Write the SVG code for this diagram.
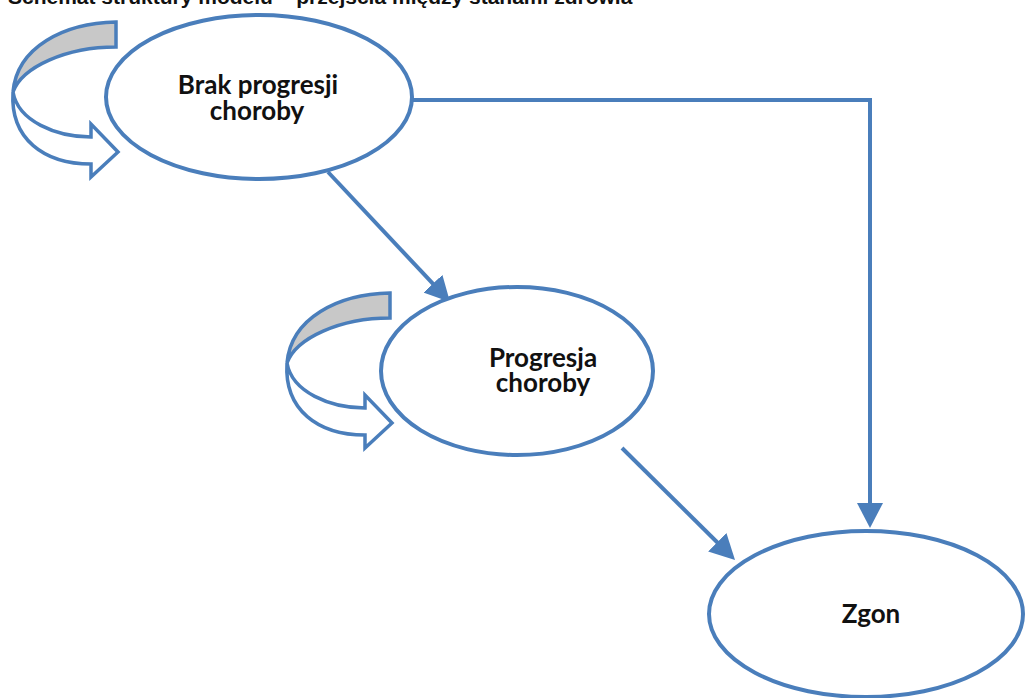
<svg xmlns="http://www.w3.org/2000/svg" width="1026" height="698" viewBox="0 0 1026 698">
<style>
.node{fill:#ffffff;stroke:#4a7ebb;stroke-width:4}
.lbl{font-family:Lato,"Open Sans","Liberation Sans",sans-serif;font-weight:bold;font-size:26px;fill:#111;text-anchor:middle}
.edge{fill:none;stroke:#4a7ebb;stroke-width:4}
.loopf{fill:#ffffff;stroke:#4a7ebb;stroke-width:3.5;stroke-linejoin:miter}
.loopb{fill:#c8c8c8;stroke:#4a7ebb;stroke-width:3.5}
.title{font-family:"Liberation Sans",Arial,sans-serif;font-weight:bold;font-size:21px;fill:#111}
</style>
<defs>
<marker id="ah" markerUnits="userSpaceOnUse" markerWidth="26" markerHeight="26" refX="13" refY="13" orient="auto">
<path d="M0,0 L25,13 L0,26 Z" fill="#4a7ebb"/>
</marker>
<g id="selfloop">
<path class="loopb" d="M390,293 C338,294 291,318 287,363 C296,338 340,318 390,318 Z"/>
<path class="loopf" d="M287,363 C292,392 330,408 365,408 L365,395 L392,423 L365,448 L365,435 C318,435 284,410 287,363 Z"/>
</g>
</defs>
<rect width="1026" height="698" fill="#ffffff"/>
<text class="title" x="8" y="4">Schemat struktury modelu – przejścia między stanami zdrowia</text>
<g id="connectors">
<use href="#selfloop" transform="translate(-274,-271)"/>
<use href="#selfloop"/>
<path class="edge" d="M412,100 L870,100 L870,516" marker-end="url(#ah)"/>
<path class="edge" d="M328,172 L441.8,293.2" marker-end="url(#ah)"/>
<path class="edge" d="M622,448 L726.5,551.5" marker-end="url(#ah)"/>
</g>
<g id="node-brak">
<ellipse class="node" cx="259" cy="97" rx="153" ry="82"/>
<text class="lbl" x="258" y="94"><tspan x="258">Brak progresji</tspan><tspan x="257" dy="26">choroby</tspan></text>
</g>
<g id="node-progresja">
<ellipse class="node" cx="517" cy="371" rx="136" ry="84"/>
<text class="lbl" x="543" y="367"><tspan x="543">Progresja</tspan><tspan x="543" dy="25">choroby</tspan></text>
</g>
<g id="node-zgon">
<ellipse class="node" cx="866" cy="614" rx="157" ry="83"/>
<text class="lbl" x="871" y="623">Zgon</text>
</g>
</svg>
